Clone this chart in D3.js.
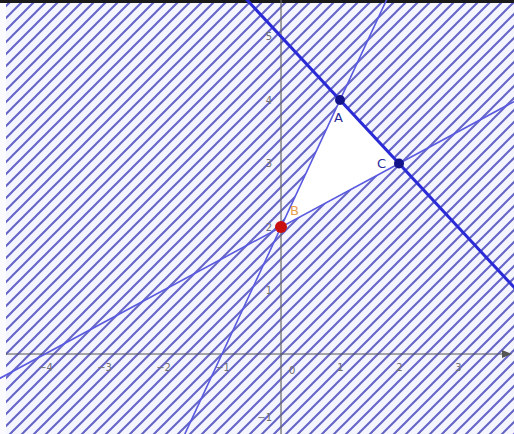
<!doctype html>
<html>
<head>
<meta charset="utf-8">
<script src="https://cdnjs.cloudflare.com/ajax/libs/d3/7.8.5/d3.min.js"></script>
<style>
  html, body { margin: 0; padding: 0; background: #fff; }
  svg { display: block; }
  .tick text { font-family: "DejaVu Sans", sans-serif; font-size: 10px; fill: #707070; }
</style>
</head>
<body>
<svg id="plot" width="514" height="434"></svg>
<script>
// triangle vertices
var pointNames = ["A", "B", "C"];
var pointX = [1, 0, 2];
var pointY = [4, 2, 3];
// boundary lines, as pairs of vertex indices
var lineFrom = [0, 0, 1];
var lineTo = [2, 1, 2];
var lineThick = [true, false, false];
// axis tick labels
var xTicks = [-4, -3, -2, -1, 1, 2, 3];
var yTicks = [-1, 1, 2, 3, 4, 5];

var svg = d3.select("#plot"),
    width = +svg.attr("width"),
    height = +svg.attr("height");

var x = d3.scaleLinear().domain([-4.763, 3.949]).range([0, width]);
var y = d3.scaleLinear().domain([-1.26, 5.575]).range([height, 0]);

// hatch pattern
var defs = svg.append("defs");
var pat = defs.append("pattern")
    .attr("id", "hatch")
    .attr("patternUnits", "userSpaceOnUse")
    .attr("width", 12).attr("height", 12);
pat.append("rect").attr("width", 12).attr("height", 12).attr("fill", "#f5f5ff");
pat.append("path")
    .attr("d", "M-3,3 L3,-3 M0,12 L12,0 M9,15 L15,9")
    .attr("stroke", "#6464c8")
    .attr("stroke-width", 2);

svg.append("rect")
    .attr("width", width).attr("height", height)
    .attr("fill", "url(#hatch)");

// the feasible triangle stays white
svg.append("polygon")
    .attr("points", pointX.map(function(d, i) {
        return x(d) + "," + y(pointY[i]);
    }).join(" "))
    .attr("fill", "#ffffff");

// white strip on the left and dark edge on top (screenshot border)
svg.append("rect").attr("x", 0).attr("y", 0).attr("width", 6).attr("height", height).attr("fill", "#fbfbff");
svg.append("rect").attr("x", 0).attr("y", 0).attr("width", width).attr("height", 3).attr("fill", "#1a1a1a");

// axes
var gx = svg.append("g")
    .attr("transform", "translate(0," + y(0) + ")")
    .call(d3.axisBottom(x).tickValues(xTicks).tickSize(0).tickPadding(10).tickFormat(d3.format("d")));
gx.select(".domain").remove();
var gy = svg.append("g")
    .attr("transform", "translate(" + x(0) + ",0)")
    .call(d3.axisLeft(y).tickValues(yTicks).tickSize(0).tickPadding(9).tickFormat(d3.format("d")));
gy.select(".domain").remove();

svg.append("text")
    .attr("x", x(0) + 8).attr("y", y(0) + 20)
    .attr("font-family", "DejaVu Sans, sans-serif").attr("font-size", 10)
    .attr("fill", "#707070").text("0");

svg.append("line")
    .attr("x1", 6).attr("x2", width - 4)
    .attr("y1", y(0)).attr("y2", y(0))
    .attr("stroke", "#555").attr("stroke-width", 1.2);
svg.append("path")
    .attr("d", "M" + (width - 2) + "," + y(0) + " l-10,-4 l0,8 z")
    .attr("fill", "#555");
svg.append("line")
    .attr("x1", x(0)).attr("x2", x(0))
    .attr("y1", 0).attr("y2", height)
    .attr("stroke", "#666").attr("stroke-width", 1.2);

// boundary lines, extended across the plot
lineFrom.forEach(function(a, i) {
    var b = lineTo[i];
    var dx = pointX[b] - pointX[a], dy = pointY[b] - pointY[a];
    var t = 20;
    svg.append("line")
        .attr("x1", x(pointX[a] - t * dx)).attr("y1", y(pointY[a] - t * dy))
        .attr("x2", x(pointX[a] + t * dx)).attr("y2", y(pointY[a] + t * dy))
        .attr("stroke", lineThick[i] ? "#2a2ad6" : "#5a5ae0")
        .attr("stroke-width", lineThick[i] ? 3 : 1.6);
});

// vertices
var labelDx = [-6, 9, -22];
var labelDy = [22, -12, 4];
var pointColor = ["#14148a", "#c81010", "#14148a"];
var labelColor = ["#2a2a9a", "#e8a050", "#2a2a9a"];
pointNames.forEach(function(name, i) {
    svg.append("circle")
        .attr("cx", x(pointX[i])).attr("cy", y(pointY[i]))
        .attr("r", i === 1 ? 6 : 5)
        .attr("fill", pointColor[i]);
    svg.append("text")
        .attr("x", x(pointX[i]) + labelDx[i]).attr("y", y(pointY[i]) + labelDy[i])
        .attr("font-family", "DejaVu Sans, sans-serif").attr("font-size", 13)
        .attr("fill", labelColor[i])
        .text(name);
});
</script>
</body>
</html>
